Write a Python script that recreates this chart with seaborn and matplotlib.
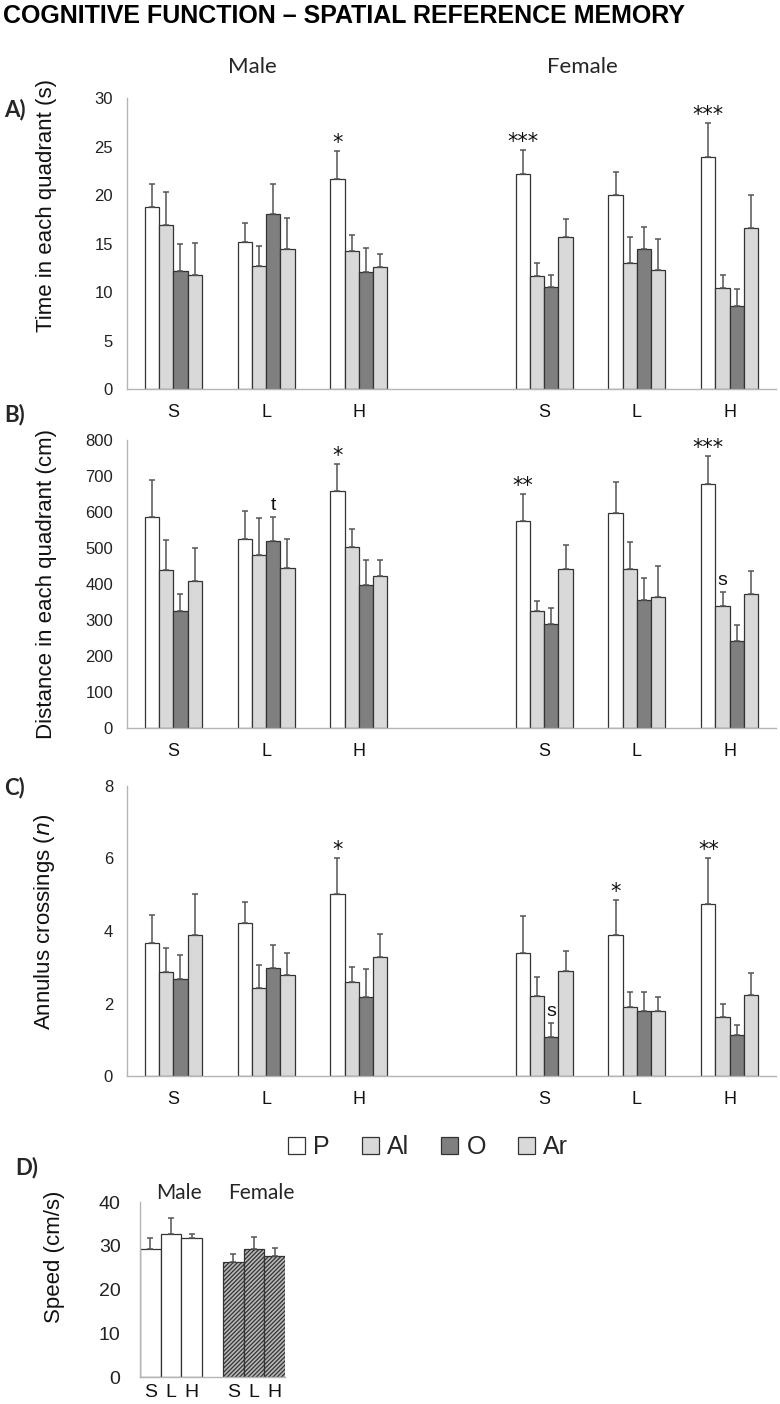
import numpy as np
import pandas as pd
import seaborn as sns
import matplotlib.pyplot as plt
from matplotlib.container import BarContainer

sns.set_theme(style="white")
plt.rcParams['font.family'] = ['Liberation Sans', 'DejaVu Sans']
plt.rcParams['hatch.linewidth'] = 0.9

# category slots (the 4th one is the empty gap between male and female)
slots = ['mS', 'mL', 'mH', 'gap', 'fS', 'fL', 'fH']
slot_labels = ['S', 'L', 'H', '', 'S', 'L', 'H']
cats = ['mS', 'mL', 'mH', 'fS', 'fL', 'fH']
groups = ['P', 'Al', 'O', 'Ar']

# A) time in each quadrant (s): mean and SEM, order = cats
time_P = [18.8, 15.2, 21.6, 22.2, 20.0, 23.9]
time_P_err = [2.3, 1.9, 2.9, 2.4, 2.4, 3.5]
time_Al = [16.9, 12.7, 14.2, 11.7, 13.0, 10.4]
time_Al_err = [3.4, 2.0, 1.7, 1.3, 2.7, 1.4]
time_O = [12.2, 18.0, 12.1, 10.5, 14.4, 8.6]
time_O_err = [2.8, 3.1, 2.4, 1.3, 2.3, 1.7]
time_Ar = [11.8, 14.4, 12.6, 15.7, 12.3, 16.6]
time_Ar_err = [3.3, 3.2, 1.3, 1.8, 3.2, 3.4]

# B) distance in each quadrant (cm)
dist_P = [587, 525, 658, 574, 596, 677]
dist_P_err = [102, 77, 76, 77, 88, 78]
dist_Al = [438, 481, 503, 325, 441, 340]
dist_Al_err = [85, 102, 50, 27, 75, 39]
dist_O = [325, 519, 397, 289, 355, 242]
dist_O_err = [47, 68, 70, 44, 61, 43]
dist_Ar = [408, 444, 423, 443, 364, 373]
dist_Ar_err = [93, 81, 44, 65, 87, 62]

# C) annulus crossings (n)
cross_P = [3.67, 4.21, 5.01, 3.38, 3.89, 4.74]
cross_P_err = [0.77, 0.60, 1.01, 1.02, 0.97, 1.26]
cross_Al = [2.88, 2.44, 2.59, 2.20, 1.89, 1.63]
cross_Al_err = [0.66, 0.61, 0.43, 0.54, 0.42, 0.35]
cross_O = [2.67, 2.99, 2.19, 1.09, 1.80, 1.12]
cross_O_err = [0.68, 0.61, 0.75, 0.38, 0.51, 0.28]
cross_Ar = [3.89, 2.79, 3.29, 2.90, 1.80, 2.23]
cross_Ar_err = [1.12, 0.59, 0.64, 0.55, 0.37, 0.62]

# D) swimming speed (cm/s)
speed_sex = ['Male', 'Male', 'Male', 'Female', 'Female', 'Female']
speed_mean = [29.3, 32.6, 31.8, 26.2, 29.3, 27.7]
speed_err = [2.5, 3.8, 0.8, 2.0, 2.7, 1.7]

# significance marks: (slot, group, text)
time_notes = [('mH', 'P', '*'), ('fS', 'P', '***'), ('fH', 'P', '***')]
dist_notes = [('mL', 'O', 't'), ('mH', 'P', '*'), ('fS', 'P', '**'),
              ('fH', 'P', '***'), ('fH', 'Al', 's')]
cross_notes = [('mH', 'P', '*'), ('fS', 'O', 's'), ('fL', 'P', '*'),
               ('fH', 'P', '**')]

colors = {'P': 'white', 'Al': '#d9d9d9', 'O': '#7f7f7f', 'Ar': '#d9d9d9'}
edge = '#333333'
err_col = '#555555'
spine_col = '#b5b5b5'


def make_df(means, errs):
    rows = []
    for g in groups:
        for c, m, e in zip(cats, means[g], errs[g]):
            rows.append({'slot': c, 'group': g, 'value': m, 'err': e})
    return pd.DataFrame(rows)


def bar_containers(ax):
    return [c for c in ax.containers if isinstance(c, BarContainer)]


def style_axis(ax, ymax, ystep, xpad, xsize):
    ax.set_ylim(0, ymax)
    ax.set_yticks(np.arange(0, ymax + ystep / 2, ystep))
    ax.set_xlim(-0.5, len(slots) - 0.5)
    ax.set_xticks(range(len(slots)))
    ax.set_xticklabels(slot_labels)
    ax.set_xticks(np.arange(-0.5, len(slots), 1), minor=True)
    ax.tick_params(axis='x', which='major', length=0, pad=xpad, labelsize=xsize, labelcolor='#111111')
    ax.tick_params(axis='x', which='minor', length=5, width=1, color=spine_col, direction='out')
    ax.tick_params(axis='y', length=4, width=1, color=spine_col, direction='out', pad=6,
                   labelsize=12, labelcolor='#222222')
    sns.despine(ax=ax)
    for s in ['left', 'bottom']:
        ax.spines[s].set_color(spine_col)
        ax.spines[s].set_linewidth(1)
    ax.set_xlabel('')


def draw_panel(ax, df, ymax, ystep, ylabel, ylab_y, notes):
    sns.barplot(data=df, x='slot', y='value', hue='group', order=slots, hue_order=groups,
                palette=colors, saturation=1, width=0.615, gap=0, edgecolor=edge,
                linewidth=0.9, errorbar=None, legend=False, ax=ax)
    pos = {}
    for cont, g in zip(bar_containers(ax), groups):
        sub = df[df.group == g].set_index('slot')
        xs, hs, es = [], [], []
        for bar in cont:
            xc = bar.get_x() + bar.get_width() / 2
            s = slots[int(round(xc))]
            e = sub.loc[s, 'err']
            xs.append(xc)
            hs.append(bar.get_height())
            es.append(e)
            pos[(s, g)] = (xc, bar.get_height() + e)
        ax.errorbar(xs, hs, yerr=[np.zeros(len(es)), es], fmt='none', ecolor=err_col,
                    elinewidth=1.1, capsize=2, capthick=1.1, zorder=3)
    for s, g, txt in notes:
        x, top = pos[(s, g)]
        if '*' in txt:
            ax.annotate(txt, (x, top), xytext=(0, 1.5), textcoords='offset points',
                        ha='center', va='baseline', fontsize=15, family=['DejaVu Sans'],
                        color='#111111')
        else:
            ax.annotate(txt, (x, top), xytext=(0, 5), textcoords='offset points',
                        ha='center', va='baseline', fontsize=14, color='#111111')
    style_axis(ax, ymax, ystep, 11, 13)
    ax.set_ylabel(ylabel, fontsize=16, color='#111111')
    ax.yaxis.set_label_coords(-0.108, ylab_y)


fig = plt.figure(figsize=(7.8, 14.04), dpi=100)
axA = fig.add_axes([0.1628, 0.7229, 0.8321, 0.2073])
axB = fig.add_axes([0.1628, 0.4815, 0.8321, 0.2051])
axC = fig.add_axes([0.1628, 0.2336, 0.8321, 0.2066])
axD = fig.add_axes([0.1795, 0.0192, 0.1859, 0.1246])

dfA = make_df({'P': time_P, 'Al': time_Al, 'O': time_O, 'Ar': time_Ar},
              {'P': time_P_err, 'Al': time_Al_err, 'O': time_O_err, 'Ar': time_Ar_err})
dfB = make_df({'P': dist_P, 'Al': dist_Al, 'O': dist_O, 'Ar': dist_Ar},
              {'P': dist_P_err, 'Al': dist_Al_err, 'O': dist_O_err, 'Ar': dist_Ar_err})
dfC = make_df({'P': cross_P, 'Al': cross_Al, 'O': cross_O, 'Ar': cross_Ar},
              {'P': cross_P_err, 'Al': cross_Al_err, 'O': cross_O_err, 'Ar': cross_Ar_err})

draw_panel(axA, dfA, 30, 5, 'Time in each quadrant (s)', 0.63, time_notes)
draw_panel(axB, dfB, 800, 100, 'Distance in each quadrant (cm)', 0.5, dist_notes)
draw_panel(axC, dfC, 8, 2, 'Annulus crossings ($n$)', 0.53, cross_notes)

# D) speed
dfD = pd.DataFrame({'slot': cats, 'sex': speed_sex, 'value': speed_mean, 'err': speed_err})
sns.barplot(data=dfD, x='slot', y='value', hue='sex', order=slots, hue_order=['Male', 'Female'],
            palette={'Male': 'white', 'Female': '#b8b8b8'}, saturation=1, dodge=False,
            width=1.0, edgecolor=edge, linewidth=0.9, errorbar=None, legend=False, ax=axD)
for cont, sx in zip(bar_containers(axD), ['Male', 'Female']):
    sub = dfD[dfD.sex == sx].set_index('slot')
    xs, hs, es = [], [], []
    for bar in cont:
        xc = bar.get_x() + bar.get_width() / 2
        if sx == 'Female':
            bar.set_hatch('////////')
        xs.append(xc)
        hs.append(bar.get_height())
        es.append(sub.loc[slots[int(round(xc))], 'err'])
    axD.errorbar(xs, hs, yerr=[np.zeros(len(es)), es], fmt='none', ecolor=err_col,
                 elinewidth=1.1, capsize=2, capthick=1.1, zorder=3)
style_axis(axD, 40, 10, 5, 14)
axD.tick_params(axis='y', labelsize=14, pad=10)
axD.set_ylabel('Speed (cm/s)', fontsize=16, color='#111111')
axD.yaxis.set_label_coords(-0.52, 0.69)

# legend
fig.legend(handles=[c.patches[0] for c in bar_containers(axC)], labels=groups, ncol=4,
           loc='center', bbox_to_anchor=(428 / 780, 1 - 1147 / 1404), frameon=False,
           fontsize=18, handlelength=0.68, handleheight=0.68, handletextpad=0.32,
           columnspacing=1.3)

# texts
fig.text(0.004, 0.997, 'COGNITIVE FUNCTION \u2013 SPATIAL REFERENCE MEMORY', fontsize=18,
         fontweight='bold', va='top', ha='left', color='black')
lato = ['Lato', 'DejaVu Sans']
fig.text(252 / 780, 1 - 67 / 1404, 'Male', fontsize=16, family=lato, ha='center', va='center')
fig.text(582 / 780, 1 - 67 / 1404, 'Female', fontsize=16, family=lato, ha='center', va='center')
fig.text(179 / 780, 1 - 1193 / 1404, 'Male', fontsize=15, family=lato, ha='center', va='center')
fig.text(261 / 780, 1 - 1193 / 1404, 'Female', fontsize=15, family=lato, ha='center', va='center')
for lab, yy, xx in [('A)', 110, 4), ('B)', 415, 4), ('C)', 788, 4), ('D)', 1168, 15)]:
    fig.text(xx / 780, 1 - yy / 1404, lab, fontsize=16, family=lato, fontweight='bold',
             ha='left', va='center')

fig.savefig('out.png', dpi=100)
